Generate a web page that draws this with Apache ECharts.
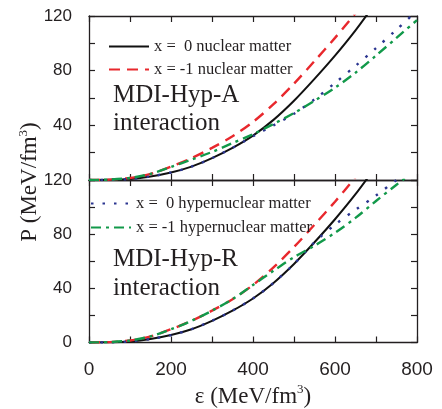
<!DOCTYPE html>
<html>
<head>
<meta charset="utf-8">
<script src="https://cdn.jsdelivr.net/npm/echarts@6/dist/echarts.min.js"></script>
<style>
  html, body { margin: 0; padding: 0; background: #fff; }
  #chart { width: 442px; height: 409px; }
</style>
</head>
<body>
<div id="chart"></div>
<script>
// Energy density grid (MeV/fm^3) shared by every curve
const energyDensity = [0, 50, 100, 150, 200, 250, 300, 350, 400, 450, 500, 550, 600, 650, 700, 750, 800];

// Pressure (MeV/fm^3) along energyDensity; curves stop once they leave the frame
const pNuclearX0  = [0, 0.1, 0.8, 2.6, 5.5, 9.8, 16, 23.5, 32.5, 44, 58, 74, 91, 109.5, 130];
const pNuclearXm1 = [0, 0.3, 1.5, 4.5, 9.8, 16, 23.5, 32, 42.5, 55.5, 70.5, 87, 104, 122];
// MDI-Hyp-A interaction
const pHyperAX0   = [0, 0.1, 0.8, 2.6, 5.5, 9.8, 16, 23.5, 32, 40, 48.5, 59, 71, 83.5, 96.5, 110, 124];
const pHyperAXm1  = [0, 0.3, 1.5, 4.5, 9.5, 15, 20.5, 27, 33.5, 41, 49, 58, 67.5, 78.5, 91, 104, 117];
// MDI-Hyp-R interaction
const pHyperRX0   = [0, 0.1, 0.8, 2.6, 5.5, 9.8, 16, 23.5, 32.5, 44, 58, 74, 87, 98, 108.5, 120, 131];
const pHyperRXm1  = [0, 0.3, 1.5, 4.5, 9.8, 16, 23.5, 32, 42.5, 53, 63, 71.5, 81, 92, 104.5, 116.5, 128];

// Axis ticks and labels
const xTickStep = 100;
const xLabelStep = 200;
const yTickStep = 20;
const yLabelStep = 40;

const seriesNames = [
  'x =  0 nuclear matter',
  'x = -1 nuclear matter',
  'x =  0 hypernuclear matter',
  'x = -1 hypernuclear matter'
];

const pair = (ys) => ys.map((y, i) => [energyDensity[i], y]);

const serif = '"Liberation Serif", "DejaVu Serif", serif';
const sans = '"Liberation Sans", Arial, sans-serif';
const ink = '#231f20';

const styles = [
  { color: '#111111', width: 2, type: 'solid' },
  { color: '#e8282d', width: 2.4, type: [11, 7] },
  { color: '#2b3590', width: 2.4, type: [2.5, 9] },
  { color: '#12994a', width: 2.4, type: [10, 5, 3, 5] }
];

function curve(nameIdx, values, axisIdx) {
  const s = styles[nameIdx];
  return {
    type: 'line',
    name: seriesNames[nameIdx],
    xAxisIndex: axisIdx,
    yAxisIndex: axisIdx,
    data: pair(values),
    showSymbol: false,
    symbol: 'none',
    smooth: 0.3,
    clip: true,
    lineStyle: { color: s.color, width: s.width, type: s.type },
    itemStyle: { color: s.color },
    emphasis: { disabled: true },
    silent: true
  };
}

const frameLine = { show: true, lineStyle: { color: ink, width: 1.3 } };
const tick = { show: true, inside: true, length: 6, lineStyle: { color: ink, width: 1.2 } };

function xAxis(gridIndex, position, withLabels) {
  return {
    type: 'value', gridIndex, position, min: 0, max: 800, interval: xTickStep,
    axisLine: Object.assign({ onZero: false }, frameLine),
    axisTick: tick,
    splitLine: { show: false },
    axisLabel: {
      show: withLabels, margin: 18, color: ink, fontFamily: sans, fontSize: 19,
      formatter: (v) => (v % xLabelStep === 0 ? String(v) : '')
    }
  };
}

function yAxis(gridIndex, position, withLabels, showZero) {
  return {
    type: 'value', gridIndex, position, min: 0, max: 120, interval: yTickStep,
    axisLine: Object.assign({ onZero: false }, frameLine),
    axisTick: tick,
    splitLine: { show: false },
    axisLabel: {
      show: withLabels, margin: 17, color: ink, fontFamily: sans, fontSize: 17,
      formatter: (v) => (v % yLabelStep === 0 && (showZero || v > 0) ? String(v) : '')
    }
  };
}

const bottomX = xAxis(1, 'bottom', true);
bottomX.name = '{m|ε (MeV/fm}{s|3}{m|)}';
bottomX.nameLocation = 'middle';
bottomX.nameGap = 41;
bottomX.nameTextStyle = {
  rich: {
    m: { fontFamily: serif, fontSize: 23, color: ink, lineHeight: 26 },
    s: { fontFamily: serif, fontSize: 13, color: ink, lineHeight: 14, verticalAlign: 'top' }
  }
};

const legendText = { fontFamily: serif, fontSize: 16.5, color: ink };
// line samples only, no marker in the middle
const legendMarker = { opacity: 0 };

const option = {
  animation: false,
  backgroundColor: '#ffffff',
  grid: [
    { left: 89, top: 16, width: 328, height: 164 },
    { left: 89, top: 180, width: 328, height: 163 }
  ],
  xAxis: [
    xAxis(0, 'bottom', false),
    bottomX,
    xAxis(0, 'top', false),
    xAxis(1, 'top', false)
  ],
  yAxis: [
    yAxis(0, 'left', true, false),
    yAxis(1, 'left', true, true),
    yAxis(0, 'right', false, false),
    yAxis(1, 'right', false, false)
  ],
  legend: [
    {
      data: [seriesNames[0], seriesNames[1]],
      orient: 'vertical', left: 108, top: 38, padding: 0,
      itemWidth: 40, itemHeight: 14, itemGap: 6,
      itemStyle: legendMarker,
      textStyle: legendText, selectedMode: false
    },
    {
      data: [seriesNames[2], seriesNames[3]],
      orient: 'vertical', left: 90, top: 195, padding: 0,
      itemWidth: 40, itemHeight: 14, itemGap: 7,
      itemStyle: legendMarker,
      textStyle: legendText, selectedMode: false
    }
  ],
  graphic: [
    { type: 'text', x: 113, y: 95, silent: true,
      style: { text: 'MDI-Hyp-A', font: '25px ' + serif, fill: ink, verticalAlign: 'middle' } },
    { type: 'text', x: 113, y: 123, silent: true,
      style: { text: 'interaction', font: '25px ' + serif, fill: ink, verticalAlign: 'middle' } },
    { type: 'text', x: 113, y: 259, silent: true,
      style: { text: 'MDI-Hyp-R', font: '25px ' + serif, fill: ink, verticalAlign: 'middle' } },
    { type: 'text', x: 113, y: 288, silent: true,
      style: { text: 'interaction', font: '25px ' + serif, fill: ink, verticalAlign: 'middle' } },
    { type: 'text', x: 30, y: 182, rotation: Math.PI / 2, silent: true,
      style: {
        text: '{m|P (MeV/fm}{s|3}{m|)}', align: 'center', verticalAlign: 'middle',
        rich: {
          m: { fontFamily: serif, fontSize: 23, fill: ink, lineHeight: 26 },
          s: { fontFamily: serif, fontSize: 13, fill: ink, lineHeight: 14, verticalAlign: 'top' }
        }
      } }
  ],
  series: [
    curve(0, pNuclearX0, 0),
    curve(1, pNuclearXm1, 0),
    curve(2, pHyperAX0, 0),
    curve(3, pHyperAXm1, 0),
    curve(0, pNuclearX0, 1),
    curve(1, pNuclearXm1, 1),
    curve(2, pHyperRX0, 1),
    curve(3, pHyperRXm1, 1)
  ]
};

const chart = echarts.init(document.getElementById('chart'), null, { renderer: 'canvas' });
chart.setOption(option);
</script>
</body>
</html>
